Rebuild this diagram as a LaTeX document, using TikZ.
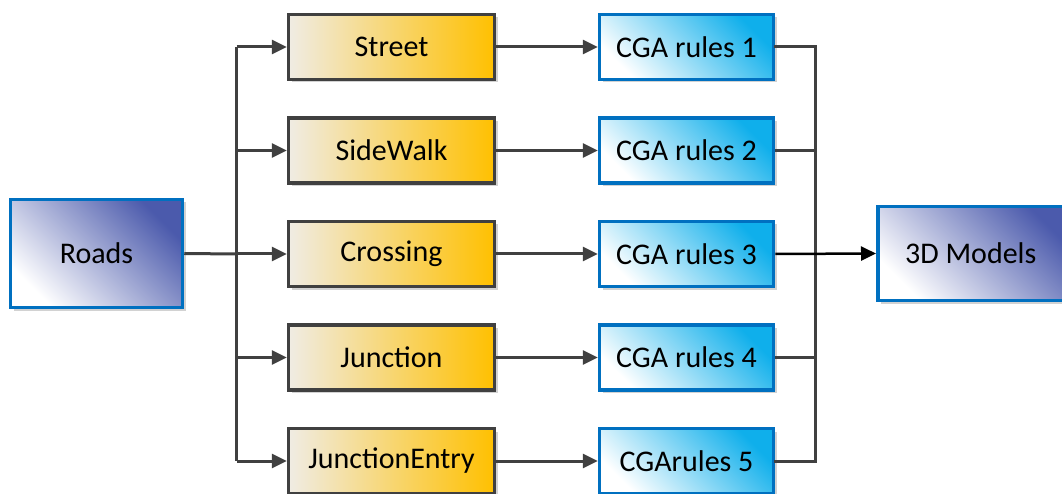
\documentclass[tikz,border=0pt]{standalone}
\usepackage{fontspec}
\setmainfont{Carlito}
\usetikzlibrary{arrows.meta,shadows}
\definecolor{bordblue}{RGB}{0,112,192}
\definecolor{roadtop}{RGB}{75,90,172}
\definecolor{cgatop}{RGB}{15,175,235}
\definecolor{ylleft}{RGB}{240,236,228}
\definecolor{ylright}{RGB}{255,192,0}
\definecolor{lgray}{RGB}{64,64,64}
\tikzset{
  shad/.style={drop shadow={shadow xshift=3pt,shadow yshift=-3pt,fill=black!35,opacity=0.5}},
  purplebox/.style={shad,draw=bordblue,line width=3.5pt,bottom color=white,top color=roadtop,shading angle=-45,
    font=\fontsize{30}{34}\selectfont,inner sep=0pt},
  yellowbox/.style={shad,draw=lgray,line width=3.5pt,left color=ylleft,right color=ylright,
    minimum width=206pt,minimum height=65pt,font=\fontsize{30}{34}\selectfont,inner sep=0pt},
  cgabox/.style={shad,draw=bordblue,line width=3.5pt,bottom color=white,top color=cgatop,shading angle=-45,
    minimum width=174pt,minimum height=65pt,font=\fontsize{30}{34}\selectfont,inner sep=0pt},
  conn/.style={draw=lgray,line width=3pt},
  arr/.style={conn,-{Triangle[length=15pt,width=14pt]}},
  blackarr/.style={draw=black,line width=2.5pt,-{Triangle[length=15pt,width=14pt]}}
}
\begin{document}
\begin{tikzpicture}[x=1pt,y=-1pt]
\useasboundingbox (0,0) rectangle (1062,494);
\node[purplebox,minimum width=172pt,minimum height=108pt] (roads) at (96.5,253.5) {Roads};
\node[yellowbox] (street) at (391.5,47) {Street};
\node[yellowbox] (side) at (391.5,150.5) {SideWalk};
\node[yellowbox] (cross) at (391.5,254) {Crossing};
\node[yellowbox] (junc) at (391.5,357.5) {Junction};
\node[yellowbox] (jentry) at (391.5,461) {JunctionEntry};
\node[cgabox] (c1) at (686.5,47) {CGA rules 1};
\node[cgabox] (c2) at (686.5,150.5) {CGA rules 2};
\node[cgabox] (c3) at (686.5,254) {CGA rules 3};
\node[cgabox] (c4) at (686.5,357.5) {CGA rules 4};
\node[cgabox] (c5) at (686.5,461) {CGArules 5};
\node[purplebox,minimum width=194pt,minimum height=94pt,anchor=west] (models) at (876,253.5) {\hspace*{-8pt}3D Models};
\coordinate (lb) at (236.5,0);
\coordinate (rb) at (815,0);
% left bus
\draw[conn] (street.west -| lb) -- (jentry.west -| lb);
\draw[conn] (roads.east) -- (cross.west -| lb);
\foreach \n in {street,side,cross,junc,jentry}
  \draw[arr] (\n.west -| lb) -- (\n.west);
% middle arrows
\draw[arr] (street.east) -- (c1.west);
\draw[arr] (side.east) -- (c2.west);
\draw[arr] (cross.east) -- (c3.west);
\draw[arr] (junc.east) -- (c4.west);
\draw[arr] (jentry.east) -- (c5.west);
% right bus
\draw[conn,line cap=rect] (c1.east) -- (c1.east -| rb) -- (c5.east -| rb) -- (c5.east);
\foreach \n in {c2,c4}
  \draw[conn] (\n.east) -- (\n.east -| rb);
\draw[blackarr] (c3.east) -- (models.west);
\end{tikzpicture}
\end{document}
